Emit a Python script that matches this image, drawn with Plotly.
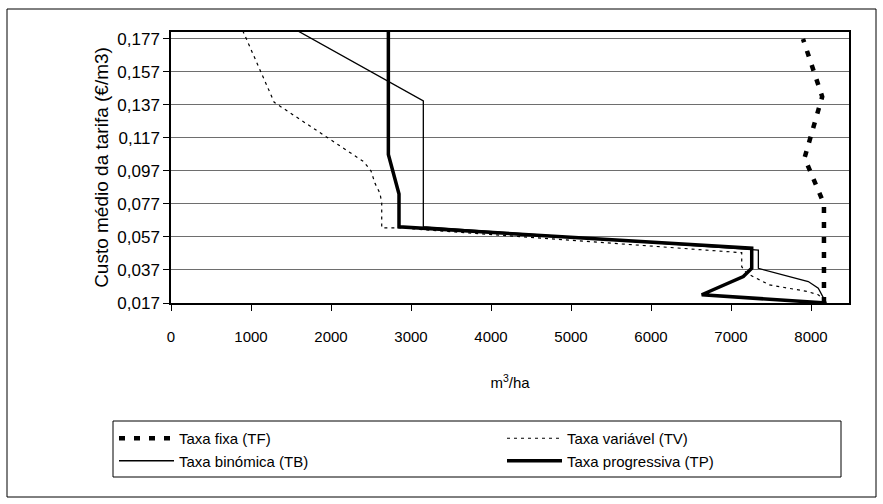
import plotly.graph_objects as go

# ---- data ----
tf_x = [8162, 8162, 7920, 8140, 7900]
tf_y = [0.017, 0.077, 0.105, 0.142, 0.177]

tv_x = [897, 1290, 2410, 2500, 2550, 2612, 2634, 2634, 2862, 7134, 7134, 7196, 7480, 7950, 8090, 8190]
tv_y = [0.182, 0.1386, 0.1026, 0.097, 0.0895, 0.0835, 0.0776, 0.0625, 0.0625, 0.0475, 0.039, 0.035, 0.028, 0.024, 0.022, 0.018]

tb_x = [1580, 3154, 3154, 7342, 7342, 7966, 8091, 8190]
tb_y = [0.182, 0.1394, 0.0632, 0.049, 0.038, 0.030, 0.026, 0.017]

tp_x = [2717, 2717, 2850, 2850, 7259, 7259, 7154, 6634, 8190]
tp_y = [0.182, 0.107, 0.0830, 0.0632, 0.0502, 0.038, 0.033, 0.022, 0.017]

names = ["Taxa fixa (TF)", "Taxa variável (TV)", "Taxa binómica (TB)", "Taxa progressiva (TP)"]
y_ticks = [0.017, 0.037, 0.057, 0.077, 0.097, 0.117, 0.137, 0.157, 0.177]
x_ticks = [0, 1000, 2000, 3000, 4000, 5000, 6000, 7000, 8000]

FONT = "Liberation Sans, Arial, sans-serif"

fig = go.Figure()
fig.add_trace(go.Scatter(x=tf_x, y=tf_y, mode="lines", name=names[0],
                         line=dict(color="black", width=4.5, dash="6px,9px")))
fig.add_trace(go.Scatter(x=tv_x, y=tv_y, mode="lines", name=names[1],
                         line=dict(color="black", width=1.2, dash="3px,4px")))
fig.add_trace(go.Scatter(x=tb_x, y=tb_y, mode="lines", name=names[2],
                         line=dict(color="black", width=1.3)))
fig.add_trace(go.Scatter(x=tp_x, y=tp_y, mode="lines", name=names[3],
                         line=dict(color="black", width=3.5)))

L, R, T, B = 171, 34, 32, 201
W, H = 883, 504
pw, ph = W - L - R, H - T - B

def px(x):
    return (x - L) / pw

def py(y):
    return (H - B - y) / ph

fig.update_layout(
    width=W, height=H,
    margin=dict(l=L, r=R, t=T, b=B, pad=0, autoexpand=False),
    paper_bgcolor="white", plot_bgcolor="white",
    separators=",.",
    font=dict(family=FONT, size=14, color="black"),
    showlegend=True,
    legend=dict(orientation="h", x=px(114), y=py(422), xanchor="left", yanchor="top",
                borderwidth=0, bgcolor="rgba(0,0,0,0)",
                entrywidth=318, entrywidthmode="pixels", itemwidth=55,
                font=dict(family=FONT, size=15, color="black"), tracegroupgap=0),
    xaxis=dict(range=[0, 8475], tickvals=x_ticks, ticks="outside", ticklen=6,
               tickcolor="black", showgrid=False, zeroline=False,
               showline=True, linecolor="black", linewidth=1.5, mirror=True,
               ticklabelstandoff=13,
               tickfont=dict(family=FONT, size=15),
               title=dict(text="m<sup>3</sup>/ha", standoff=34, font=dict(family=FONT, size=15))),
    yaxis=dict(range=[0.017, 0.1812], tickvals=y_ticks, tickformat=".3f",
               ticks="outside", ticklen=6, tickcolor="black",
               showgrid=True, gridcolor="#6e6e6e", gridwidth=1, zeroline=False,
               showline=True, linecolor="black", linewidth=1.5, mirror=True,
               tickfont=dict(family=FONT, size=17),
               title=dict(text="Custo médio da tarifa (€/m3)", standoff=4,
                          font=dict(family=FONT, size=19))),
    shapes=[
        dict(type="rect", xref="paper", yref="paper",
             x0=px(7), x1=px(876), y0=py(497), y1=py(9),
             line=dict(color="black", width=1), layer="below"),
        dict(type="rect", xref="paper", yref="paper",
             x0=px(113), x1=px(841), y0=py(477), y1=py(421),
             line=dict(color="black", width=1), fillcolor="white", layer="below"),
    ],
)

fig.write_html("out.html")
